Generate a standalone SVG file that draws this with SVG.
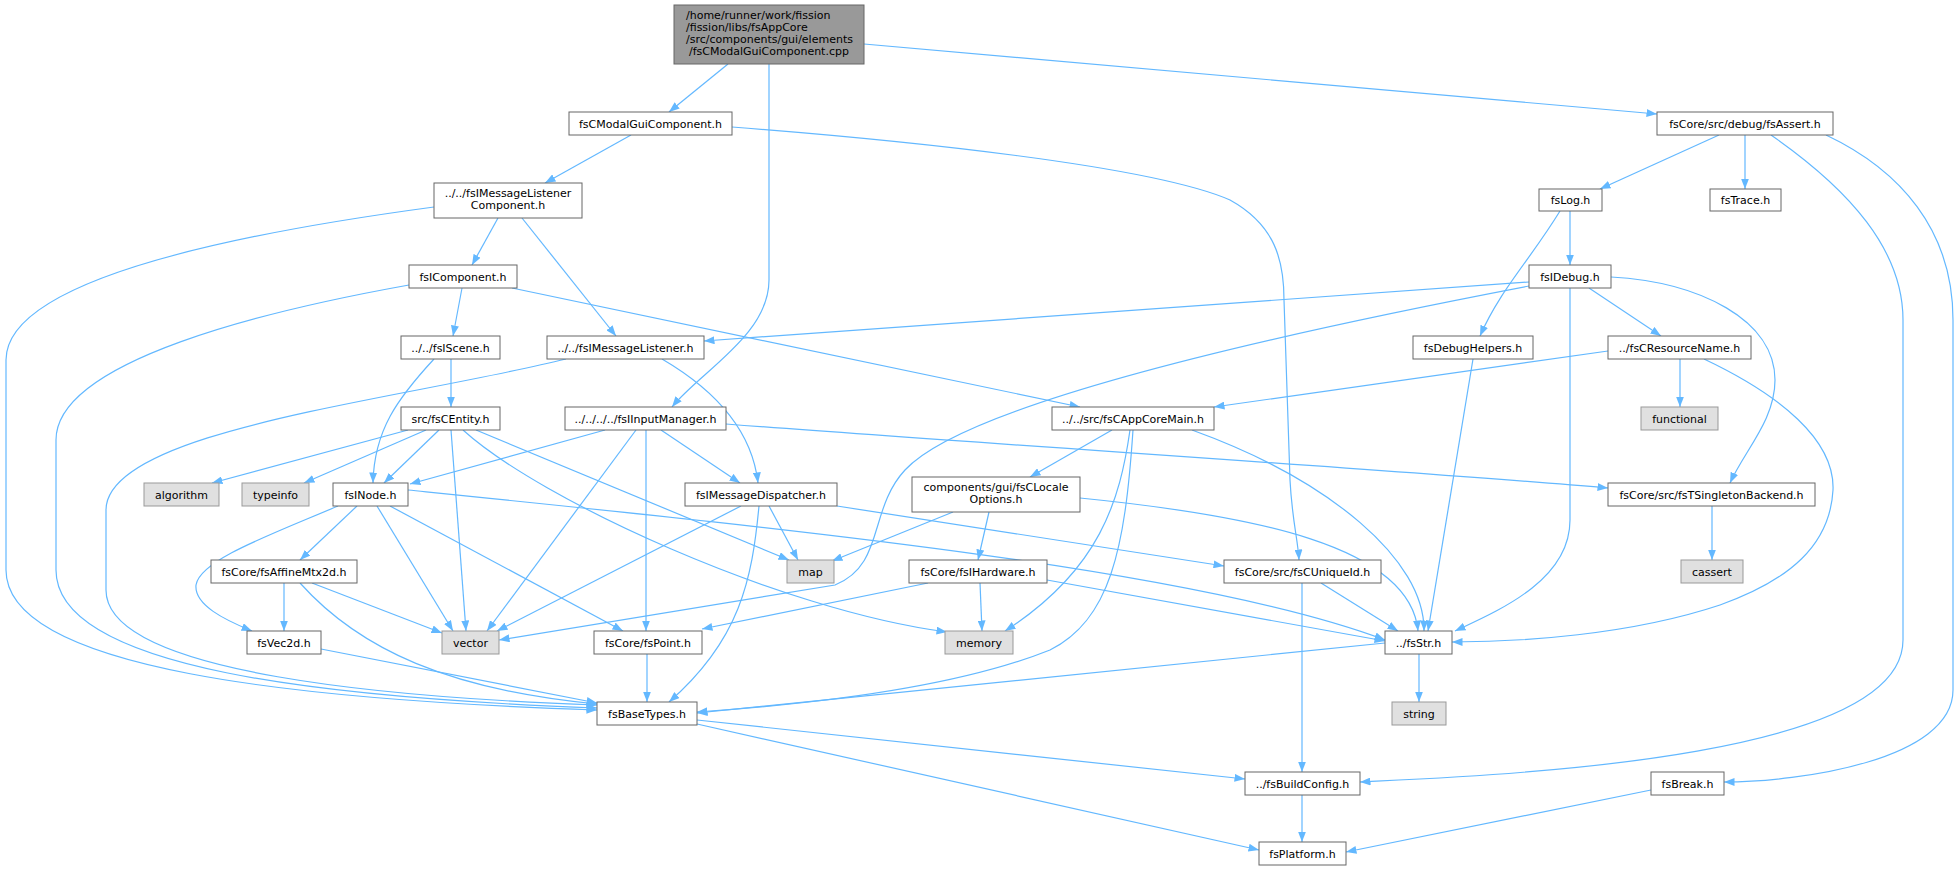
<svg xmlns="http://www.w3.org/2000/svg" width="1960" height="871" viewBox="0 0 1960 871">
<style>
text{font-family:"DejaVu Sans","Liberation Sans",sans-serif;font-size:11px;fill:#000;text-anchor:middle}
.n rect{fill:#fff;stroke:#666;stroke-width:1}
.r rect{fill:#999;stroke:#666;stroke-width:1}
.x rect{fill:#e0e0e0;stroke:#999;stroke-width:1}
#edges path{fill:none;stroke:#63b8ff;stroke-width:1.2;marker-end:url(#a)}
</style>
<defs>
<marker id="a" markerUnits="userSpaceOnUse" markerWidth="11" markerHeight="8" refX="10.5" refY="4" orient="auto">
<path d="M0,0 L10.5,4 L0,8 z" fill="#63b8ff" stroke="none"/>
</marker>
</defs>
<rect width="1960" height="871" fill="#fff"/>
<g id="edges">
<path d="M728,64 L669,112"/>
<path d="M769,64 L769,280 C769,335 700,372 672,407"/>
<path d="M864,44 L1657,114"/>
<path d="M631,135 L545,183"/>
<path d="M732,127 C900,140 1150,165 1230,200 C1275,225 1284,260 1284,300 L1290,480 C1292,520 1298,540 1299,560"/>
<path d="M498,218 L472,265"/>
<path d="M522,218 L616,336"/>
<path d="M434,207 C300,225 6,270 6,360 L6,570 C6,670 300,700 597,710"/>
<path d="M462,288 L453,336"/>
<path d="M512,288 L1080,407"/>
<path d="M409,285 C270,310 56,360 56,440 L56,570 C56,670 330,698 597,708"/>
<path d="M451,359 L451,407"/>
<path d="M434,359 C398,398 374,430 373,483"/>
<path d="M566,359 C400,400 106,430 106,510 L106,590 C106,675 400,698 597,705"/>
<path d="M662,359 C715,390 752,430 758,483"/>
<path d="M1529,282 L704,341"/>
<path d="M1529,286 C1220,345 960,410 905,470 C868,510 885,565 835,585 L499,640"/>
<path d="M1570,288 L1570,520 C1570,580 1500,610 1455,631"/>
<path d="M1589,288 L1661,336"/>
<path d="M1611,277 C1700,282 1775,320 1775,380 C1775,420 1745,450 1730,483"/>
<path d="M1570,211 L1570,265"/>
<path d="M1560,211 C1530,260 1500,290 1480,336"/>
<path d="M1719,135 L1600,189"/>
<path d="M1745,135 L1745,189"/>
<path d="M1771,135 C1850,190 1903,250 1903,320 L1903,640 C1903,760 1500,775 1360,782"/>
<path d="M1826,135 C1900,170 1953,230 1953,320 L1953,690 C1953,760 1800,782 1724,782"/>
<path d="M1473,359 L1428,631"/>
<path d="M1608,351 L1214,407"/>
<path d="M1680,359 L1680,407"/>
<path d="M1704,359 C1780,395 1835,440 1833,490 C1830,545 1790,580 1720,605 C1630,635 1520,642 1452,642"/>
<path d="M1112,430 L1030,477"/>
<path d="M1130,430 C1120,500 1100,570 1005,631"/>
<path d="M1133,430 C1125,550 1110,620 1050,650 C950,690 800,705 697,712"/>
<path d="M1192,430 C1330,480 1425,560 1424,631"/>
<path d="M953,512 L832,561"/>
<path d="M989,512 L978,560"/>
<path d="M1080,498 C1250,515 1410,545 1418,631"/>
<path d="M605,430 L410,484"/>
<path d="M636,430 L487,631"/>
<path d="M646,430 L646,631"/>
<path d="M661,430 L740,483"/>
<path d="M726,424 C1000,445 1400,470 1608,488"/>
<path d="M408,430 L212,483"/>
<path d="M426,430 L304,483"/>
<path d="M439,430 L384,483"/>
<path d="M451,430 L466,631"/>
<path d="M476,430 L789,560"/>
<path d="M463,430 C540,500 780,610 947,632"/>
<path d="M357,506 L300,560"/>
<path d="M338,506 C270,535 200,560 196,585 C194,605 225,620 252,631"/>
<path d="M377,506 L453,631"/>
<path d="M390,506 L623,631"/>
<path d="M408,490 C800,530 1200,570 1385,640"/>
<path d="M741,506 L497,631"/>
<path d="M769,506 L798,560"/>
<path d="M759,506 C752,580 740,640 669,702"/>
<path d="M837,506 L1224,566"/>
<path d="M284,583 L284,631"/>
<path d="M312,583 L442,633"/>
<path d="M300,583 C360,650 450,690 597,704"/>
<path d="M321,649 L597,703"/>
<path d="M647,654 L647,702"/>
<path d="M928,583 L702,629"/>
<path d="M980,583 L982,631"/>
<path d="M1047,580 L1385,641"/>
<path d="M1321,583 L1398,631"/>
<path d="M1302,583 L1302,772"/>
<path d="M1385,643 L697,713"/>
<path d="M1419,654 L1419,702"/>
<path d="M697,720 L1245,779"/>
<path d="M697,724 L1259,850"/>
<path d="M1302,795 L1302,842"/>
<path d="M1651,790 L1346,852"/>
<path d="M1712,506 L1712,560"/>
</g>
<g id="cpp" class="r"><rect x="674" y="5" width="190" height="59"/>
<text x="686" y="19.3" style="text-anchor:start">/home/runner/work/fission</text>
<text x="686" y="31.3" style="text-anchor:start">/fission/libs/fsAppCore</text>
<text x="686" y="43.3" style="text-anchor:start">/src/components/gui/elements</text>
<text x="769" y="55.3">/fsCModalGuiComponent.cpp</text></g>
<g id="modal" class="n"><rect x="569" y="112" width="163" height="23"/><text x="650.5" y="127.5">fsCModalGuiComponent.h</text></g>
<g id="mlc" class="n"><rect x="434" y="183" width="148" height="35"/><text x="508" y="196.7">../../fsIMessageListener</text><text x="508" y="208.7">Component.h</text></g>
<g id="assert" class="n"><rect x="1657" y="112" width="176" height="23"/><text x="1745" y="127.5">fsCore/src/debug/fsAssert.h</text></g>
<g id="log" class="n"><rect x="1539" y="189" width="63" height="22"/><text x="1570.5" y="204">fsLog.h</text></g>
<g id="trace" class="n"><rect x="1710" y="189" width="71" height="22"/><text x="1745.5" y="204">fsTrace.h</text></g>
<g id="comp" class="n"><rect x="409" y="265" width="108" height="23"/><text x="463" y="280.5">fsIComponent.h</text></g>
<g id="debug" class="n"><rect x="1529" y="265" width="82" height="23"/><text x="1570" y="280.5">fsIDebug.h</text></g>
<g id="scene" class="n"><rect x="401" y="336" width="99" height="23"/><text x="450.5" y="351.5">../../fsIScene.h</text></g>
<g id="ml" class="n"><rect x="547" y="336" width="157" height="23"/><text x="625.5" y="351.5">../../fsIMessageListener.h</text></g>
<g id="dh" class="n"><rect x="1413" y="336" width="120" height="23"/><text x="1473" y="351.5">fsDebugHelpers.h</text></g>
<g id="rn" class="n"><rect x="1608" y="336" width="143" height="23"/><text x="1679.5" y="351.5">../fsCResourceName.h</text></g>
<g id="entity" class="n"><rect x="401" y="407" width="99" height="23"/><text x="450.5" y="422.5">src/fsCEntity.h</text></g>
<g id="input" class="n"><rect x="565" y="407" width="161" height="23"/><text x="645.5" y="422.5">../../../../fsIInputManager.h</text></g>
<g id="main" class="n"><rect x="1052" y="407" width="162" height="23"/><text x="1133" y="422.5">../../src/fsCAppCoreMain.h</text></g>
<g id="func" class="x"><rect x="1641" y="407" width="77" height="23"/><text x="1679.5" y="422.5">functional</text></g>
<g id="algo" class="x"><rect x="144" y="483" width="75" height="23"/><text x="181.5" y="498.5">algorithm</text></g>
<g id="typeinfo" class="x"><rect x="242" y="483" width="67" height="23"/><text x="275.5" y="498.5">typeinfo</text></g>
<g id="node" class="n"><rect x="333" y="483" width="75" height="23"/><text x="370.5" y="498.5">fsINode.h</text></g>
<g id="disp" class="n"><rect x="685" y="483" width="152" height="23"/><text x="761" y="498.5">fsIMessageDispatcher.h</text></g>
<g id="locale" class="n"><rect x="912" y="477" width="168" height="35"/><text x="996" y="491.3">components/gui/fsCLocale</text><text x="996" y="503.3">Options.h</text></g>
<g id="tsb" class="n"><rect x="1608" y="483" width="207" height="23"/><text x="1711.5" y="498.5">fsCore/src/fsTSingletonBackend.h</text></g>
<g id="affine" class="n"><rect x="211" y="560" width="146" height="23"/><text x="284" y="575.5">fsCore/fsAffineMtx2d.h</text></g>
<g id="map" class="x"><rect x="787" y="560" width="47" height="23"/><text x="810.5" y="575.5">map</text></g>
<g id="hw" class="n"><rect x="909" y="560" width="138" height="23"/><text x="978" y="575.5">fsCore/fsIHardware.h</text></g>
<g id="uid" class="n"><rect x="1224" y="560" width="157" height="23"/><text x="1302.5" y="575.5">fsCore/src/fsCUniqueId.h</text></g>
<g id="cassert" class="x"><rect x="1681" y="560" width="62" height="23"/><text x="1712" y="575.5">cassert</text></g>
<g id="vec2d" class="n"><rect x="247" y="631" width="74" height="23"/><text x="284" y="646.5">fsVec2d.h</text></g>
<g id="vector" class="x"><rect x="442" y="631" width="57" height="23"/><text x="470.5" y="646.5">vector</text></g>
<g id="point" class="n"><rect x="594" y="631" width="108" height="23"/><text x="648" y="646.5">fsCore/fsPoint.h</text></g>
<g id="memory" class="x"><rect x="945" y="631" width="68" height="23"/><text x="979" y="646.5">memory</text></g>
<g id="str" class="n"><rect x="1385" y="631" width="67" height="23"/><text x="1418.5" y="646.5">../fsStr.h</text></g>
<g id="base" class="n"><rect x="597" y="702" width="100" height="23"/><text x="647" y="717.5">fsBaseTypes.h</text></g>
<g id="string" class="x"><rect x="1392" y="702" width="54" height="23"/><text x="1419" y="717.5">string</text></g>
<g id="build" class="n"><rect x="1245" y="772" width="115" height="23"/><text x="1302.5" y="787.5">../fsBuildConfig.h</text></g>
<g id="break" class="n"><rect x="1651" y="772" width="73" height="23"/><text x="1687.5" y="787.5">fsBreak.h</text></g>
<g id="plat" class="n"><rect x="1259" y="842" width="87" height="23"/><text x="1302.5" y="857.5">fsPlatform.h</text></g>
</svg>
